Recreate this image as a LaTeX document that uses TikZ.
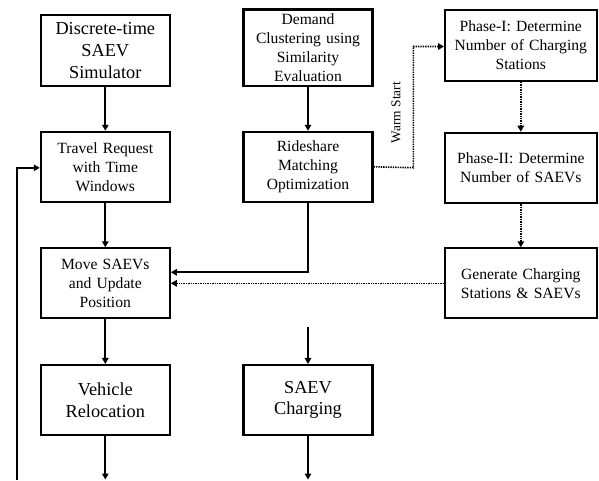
\documentclass[tikz,border=0pt]{standalone}
\usepackage{fontspec}
\setmainfont{Liberation Serif}
\usetikzlibrary{arrows.meta,calc}

\tikzset{
  block/.style={draw, line width=2.1pt, inner sep=0pt, align=center,
                text width=#1, font=\fontsize{15.6}{19}\selectfont},
  block/.default=125pt,
  bigblock/.style={block, font=\fontsize{18.3}{21.7}\selectfont},
  flow/.style={line width=1.7pt, -{Triangle[length=6pt,width=6.5pt]}},
  dotflow/.style={flow, line width=1.6pt, dash pattern=on 1.4pt off 1pt},
}

\begin{document}
\begin{tikzpicture}[x=1pt, y=-1pt]
  \useasboundingbox (0,0) rectangle (599,480);

  % left column: simulation loop
  \node[bigblock, minimum width=129pt, minimum height=71pt] (disc) at (105.3,50.5) {Discrete-time\\SAEV\\Simulator};
  \node[block, minimum width=129pt, minimum height=70pt] (travel) at (105.3,166.8) {Travel Request\\with Time\\Windows};
  \node[block, minimum width=129pt, minimum height=70pt] (move) at (105.3,283.3) {Move SAEVs\\and Update\\Position};
  \node[bigblock, minimum width=129pt, minimum height=70pt] (reloc) at (105.3,400) {Vehicle\\Relocation};

  % middle column: demand handling and charging
  \node[block, minimum width=129pt, minimum height=76.5pt] (demand) at (308,47.7) {Demand\\Clustering using\\Similarity\\Evaluation};
  \node[block, minimum width=129pt, minimum height=70pt] (ride) at (308,166.8) {Rideshare\\Matching\\Optimization};
  \node[bigblock, minimum width=129pt, minimum height=70pt] (charge) at (308,400) {SAEV\\Charging};

  % right column: fleet and station sizing
  \node[block=150pt, minimum width=151.5pt, minimum height=71pt] (ph1) at (520.8,45.5) {Phase-I: Determine\\Number of Charging\\Stations};
  \node[block=150pt, minimum width=151.5pt, minimum height=70.5pt] (ph2) at (520.8,168) {Phase-II: Determine\\Number of SAEVs};
  \node[block=150pt, minimum width=151.5pt, minimum height=70pt] (gen) at (520.8,283.3) {Generate Charging\\Stations \& SAEVs};

  % free ends
  \coordinate (relocEnd) at (105.3,479.5);
  \coordinate (chargeIn) at (308,327.3);
  \coordinate (chargeEnd) at (308,479.5);
  \coordinate (loopStart) at (16.7,480);
  \coordinate (warmBend) at (413.3,167.7);

  % solid connectors
  \draw[flow] (disc) -- (travel);
  \draw[flow] (travel) -- (move);
  \draw[flow] (move) -- (reloc);
  \draw[flow] (reloc) -- (relocEnd);
  \draw[flow] (demand) -- (ride);
  \draw[flow] (ride.south) |- ([yshift=11pt]move.east);
  \draw[flow] (chargeIn) -- (charge);
  \draw[flow] (charge) -- (chargeEnd);
  \draw[flow] (loopStart) |- ([yshift=-1pt]travel.west);

  % dotted connectors
  \draw[dotflow] (ride.east) -- (warmBend) |- ([yshift=-1pt]ph1.west);
  \draw[dotflow] (ph1) -- (ph2);
  \draw[dotflow] (ph2) -- (gen);
  \draw[dotflow] (gen.west) -- (move.east);

  \node[rotate=90, font=\fontsize{13.4}{15}\selectfont, inner sep=0pt] (warm) at (396,112.5) {Warm Start};
\end{tikzpicture}
\end{document}
